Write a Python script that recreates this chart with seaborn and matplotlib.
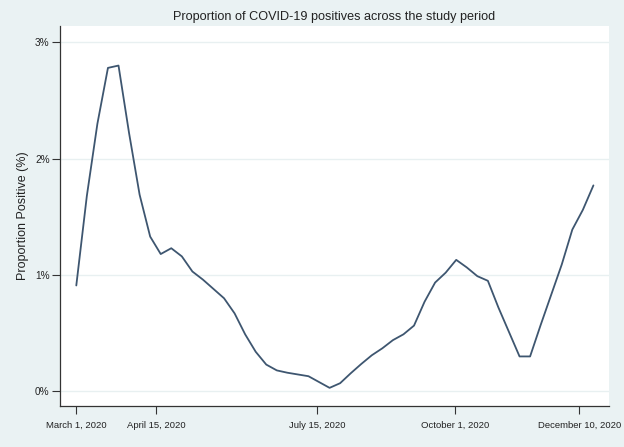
import matplotlib
matplotlib.use("Agg")
import matplotlib.pyplot as plt
import seaborn as sns
import pandas as pd

# ---- data ----
start_date = "2020-03-01"
end_date = "2020-12-18"
n_points = 50
proportion_positive = [
    0.91, 1.68, 2.30, 2.78, 2.80, 2.22, 1.69, 1.33, 1.18, 1.23,
    1.16, 1.03, 0.96, 0.88, 0.80, 0.67, 0.49, 0.34, 0.23, 0.18,
    0.16, 0.145, 0.13, 0.08, 0.03, 0.07, 0.155, 0.235, 0.31, 0.37,
    0.44, 0.49, 0.565, 0.77, 0.935, 1.02, 1.13, 1.065, 0.99, 0.95,
    0.72, 0.51, 0.30, 0.30, 0.57, 0.83, 1.09, 1.39, 1.56, 1.77,
]
tick_dates = ["2020-03-01", "2020-04-15", "2020-07-15", "2020-10-01", "2020-12-10"]
tick_labels = ["March 1, 2020", "April 15, 2020", "July 15, 2020",
               "October 1, 2020", "December 10, 2020"]
y_ticks = [0, 1, 2, 3]
y_tick_labels = ["0%", "1%", "2%", "3%"]
title = "Proportion of COVID-19 positives across the study period"
y_label = "Proportion Positive (%)"

dates = pd.date_range(start_date, end_date, periods=n_points)
df = pd.DataFrame({"date": dates, "prop": proportion_positive})

sns.set_theme(style="white")
plt.rcParams["font.family"] = ["Liberation Sans", "DejaVu Sans"]

bg = "#eaf2f3"
fig = plt.figure(figsize=(6.24, 4.47), dpi=100, facecolor=bg)
ax = fig.add_axes([60 / 624, 1 - 406 / 447, 549 / 624, 380 / 447])
ax.set_facecolor("white")

for yv in y_ticks:
    ax.axhline(yv, color="#e8f0f1", lw=1.0, zorder=0)

sns.lineplot(data=df, x="date", y="prop", ax=ax, color="#3e5670", lw=1.3)

x0 = pd.Timestamp(start_date)
ax.set_xlim(x0 - pd.Timedelta(days=9.2), x0 + pd.Timedelta(days=300.8))
ax.set_ylim(-0.126, 3.14)

ax.set_xticks(pd.to_datetime(tick_dates))
ax.set_xticklabels(tick_labels, fontsize=6.8, color="#222222")
ax.set_yticks(y_ticks)
ax.set_yticklabels(y_tick_labels, fontsize=7.2, color="#222222")

ax.tick_params(axis="both", which="major", direction="out", length=6,
               width=0.8, color="#333333", bottom=True, left=True)
ax.tick_params(axis="x", pad=5)
ax.tick_params(axis="y", pad=1.5)

for side in ["top", "right"]:
    ax.spines[side].set_visible(False)
for side in ["left", "bottom"]:
    ax.spines[side].set_color("#333333")
    ax.spines[side].set_linewidth(0.9)

ax.set_xlabel("")
ax.set_ylabel(y_label, fontsize=9, color="#222222", labelpad=4)
fig.text(334 / 624, 1 - 17 / 447, title, ha="center", va="center",
         fontsize=9.1, color="#222222")

fig.savefig("out.png", dpi=100, facecolor=bg)
